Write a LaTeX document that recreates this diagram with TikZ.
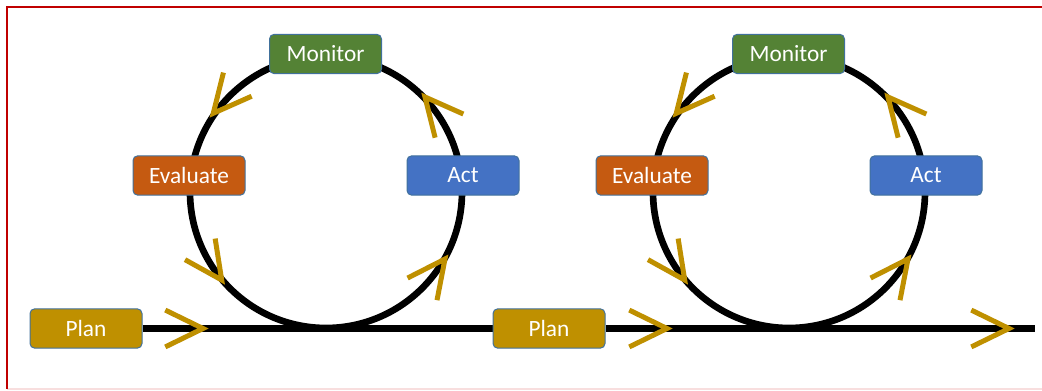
\documentclass[tikz,border=0pt]{standalone}
\usepackage{fontspec}
\setmainfont{Carlito}
\usetikzlibrary{backgrounds}
\definecolor{gold}{RGB}{191,144,0}
\definecolor{mgreen}{RGB}{84,130,53}
\definecolor{eorange}{RGB}{197,90,17}
\definecolor{ablue}{RGB}{68,114,196}
\definecolor{edgeblue}{RGB}{65,113,156}
\definecolor{framered}{RGB}{192,0,0}
\definecolor{framepink}{RGB}{248,222,222}
\begin{document}
\begin{tikzpicture}[x=0.75pt,y=-0.75pt,
  box/.style={draw=edgeblue, line width=0.75pt, rounded corners=3.5pt,
    minimum width=84pt, minimum height=29.5pt, inner sep=0pt, text=white,
    font=\fontsize{17.5}{20}\selectfont},
  track/.style={draw=black, line width=5pt},
  chevron/.pic={\draw[gold, line width=3.75pt, miter limit=10]
    (-37.7,18.4) -- (0,0) -- (-37.7,-18.4);}]
\useasboundingbox (0,0) rectangle (1042,391);
% frame
\draw[framepink, line width=1.5pt] (7,389.5) -- (1042,389.5);
\draw[framered, line width=1.5pt] (1042,7) -- (7,7) -- (7,389.5);
% units
\foreach \dx/\k in {0/1,463/2}{
  \coordinate (c\k) at (326+\dx,192);
  \node[box, fill=mgreen]  (mon\k)  at (325.5+\dx,54)    {Monitor};
  \node[box, fill=eorange] (eva\k)  at (189+\dx,175.5)   {Evaluate};
  \node[box, fill=ablue]   (act\k)  at (463+\dx,175.5)   {Act};
  \node[box, fill=gold]    (plan\k) at (86+\dx,328.5)    {Plan};
  \begin{scope}[on background layer]
    \draw[track] (c\k) circle (136);
  \end{scope}
  \pic[rotate=230] at (213.3+\dx,113.3) {chevron};
  \pic[rotate=305] at (221.7+\dx,280)   {chevron};
  \pic[rotate=130] at (425+\dx,97)      {chevron};
  \pic[rotate=53]  at (445+\dx,259)     {chevron};
}
\coordinate (end) at (1035,328.5);
\begin{scope}[on background layer]
  \draw[track] (plan1.east) -- (plan2.west);
  \draw[track] (plan2.east) -- (end);
\end{scope}
\pic at (203,328.5)  {chevron};
\pic at (667,328.5)  {chevron};
\pic at (1009,328.5) {chevron};
\end{tikzpicture}
\end{document}
